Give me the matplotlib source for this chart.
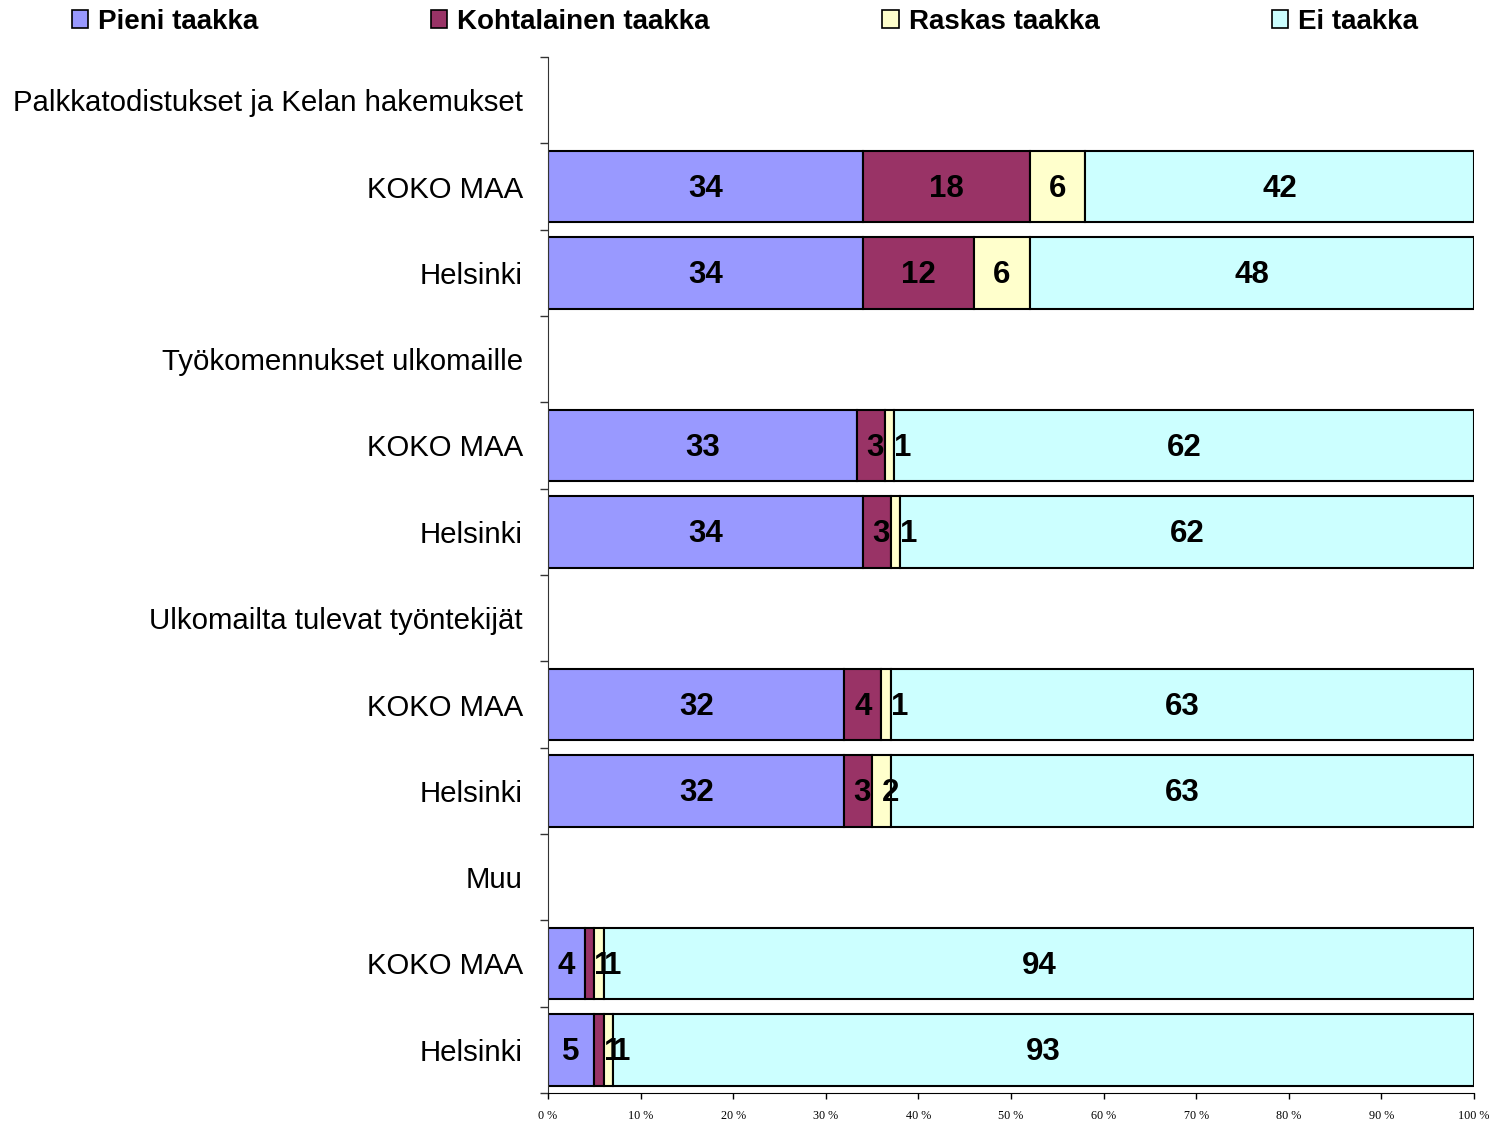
import matplotlib
matplotlib.use("Agg")
import matplotlib.pyplot as plt
from matplotlib.patches import Patch
import numpy as np

groups = ["Palkkatodistukset ja Kelan hakemukset", "Työkomennukset ulkomaille",
          "Ulkomailta tulevat työntekijät", "Muu"]
regions = ["KOKO MAA", "Helsinki"]
series = ["Pieni taakka", "Kohtalainen taakka", "Raskas taakka", "Ei taakka"]
colors = ["#9999FF", "#993366", "#FFFFCC", "#CCFFFF"]

# values per group: [KOKO MAA, Helsinki], each [Pieni, Kohtalainen, Raskas, Ei]
palkka = [[34, 18, 6, 42], [34, 12, 6, 48]]
tyokom = [[33, 3, 1, 62], [34, 3, 1, 62]]
ulko = [[32, 4, 1, 63], [32, 3, 2, 63]]
muu = [[4, 1, 1, 94], [5, 1, 1, 93]]
group_values = [palkka, tyokom, ulko, muu]
xticks_labels = ["0 %", "10 %", "20 %", "30 %", "40 %", "50 %", "60 %", "70 %", "80 %", "90 %", "100 %"]

fig = plt.figure(figsize=(14.99, 11.23), dpi=100)
ax = fig.add_axes([548/1499, 1-1093/1123, (1474-548)/1499, (1093-57)/1123])

rows = []
row_vals = []
for g, vals in zip(groups, group_values):
    rows.append(g); row_vals.append(None)
    for r, v in zip(regions, vals):
        rows.append(r); row_vals.append(v)

# label box half-width in axes units (labels are kept inside from the segment's left edge)
half_box = 18.0 / 926.0

n = len(rows)
for i, v in enumerate(row_vals):
    if v is None:
        continue
    tot = float(sum(v))
    left = 0.0
    for j, val in enumerate(v):
        w = val / tot
        ax.barh(i, w, left=left, height=0.83, color=colors[j], edgecolor="black", linewidth=1.5)
        xc = max(left + w/2, left + half_box)
        ax.text(xc, i + 0.03, str(val), ha="center", va="center",
                fontsize=22.5, fontweight="bold", family="Liberation Sans", color="black")
        left += w

ax.set_ylim(n - 0.5, -0.5)
ax.set_xlim(0, 1)
ax.set_yticks(range(n))
ax.set_yticklabels(rows, fontsize=21.2, family="Liberation Sans")
ax.set_yticks(np.arange(-0.5, n, 1.0), minor=True)
ax.tick_params(axis="y", which="major", length=0, pad=18)
ax.tick_params(axis="y", which="minor", length=6, width=1, direction="out", color="#333333")
ax.set_xticks(np.linspace(0, 1, 11))
ax.set_xticklabels(xticks_labels, fontsize=8.7, family="Liberation Serif")
ax.tick_params(axis="x", length=4, width=1, direction="out", pad=8)
for s in ["top", "right"]:
    ax.spines[s].set_visible(False)
ax.spines["left"].set_color("#333333")
ax.spines["bottom"].set_color("black")

handles = [Patch(facecolor=c, edgecolor="black", linewidth=1.2) for c in colors]
fig.legend(handles, series, loc="center", bbox_to_anchor=(0.497, 1-22/1123), ncol=4,
           frameon=False, prop={"family": "Liberation Sans", "weight": "bold", "size": 20},
           handlelength=0.6, handleheight=0.6, handletextpad=0.36, columnspacing=6.2,
           borderpad=0, borderaxespad=0)

fig.savefig("out.png", dpi=100)
